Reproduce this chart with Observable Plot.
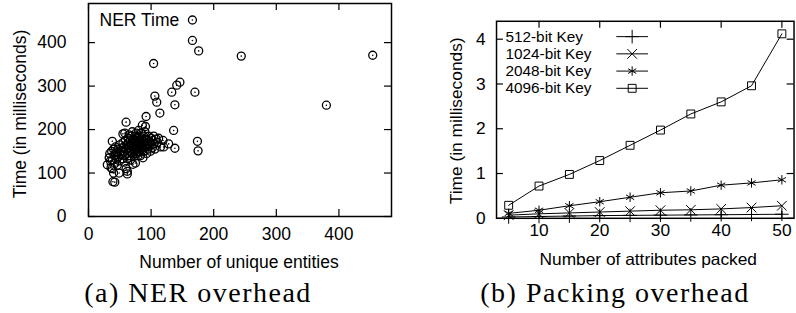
<!DOCTYPE html>
<html><head><meta charset="utf-8">
<script src="https://cdn.jsdelivr.net/npm/d3@7"></script>
<script src="https://cdn.jsdelivr.net/npm/@observablehq/plot@0.6"></script>
<style>
html,body{margin:0;padding:0;background:#fff;overflow:hidden}
#wrap{position:relative;width:796px;height:313px;overflow:hidden;background:#fff}
.fig{position:absolute;top:0}
.cap{position:absolute;font-family:"Liberation Serif",serif;font-size:28px;letter-spacing:1.5px;white-space:nowrap;transform:translate(-50%,-50%);color:#000;line-height:1}
</style></head><body>
<div id="wrap">
  <div id="figA" class="fig" style="left:0"></div>
  <div id="figB" class="fig" style="left:400px"></div>
  <div id="capA" class="cap" style="left:198px;top:293px"></div>
  <div id="capB" class="cap" style="left:615px;top:293px"></div>
</div>
<script>
// ---------- data: (a) NER overhead ----------
const nerEntities = [166,166,176,244,454,380,104,146,141,133,170,106,109,138,114,92,136,174,175,138,128,120,60,38,42,39,30,49,62,62,86,91,75,62,38,38,43,
 33,34,35,36,37,40,40,41,42,43,44,45,46,47,48,50,50,51,52,53,54,55,55,56,57,57,58,58,59,60,60,61,62,63,64,64,65,65,66,66,67,67,68,68,69,70,70,70,71,71,72,72,73,73,74,74,75,75,76,76,77,77,78,78,79,79,80,80,80,81,81,82,82,83,83,84,84,85,85,86,87,87,88,88,89,90,90,91,92,93,94,95,95,96,97,98,99,100,101,102,103,104,105,106,108,110,112,115,119];
const nerTimes = [452,405,381,369,371,256,352,309,302,286,286,277,263,257,238,230,198,173,151,157,167,160,217,173,79,80,119,100,104,98,210,207,123,133,110,129,141,
 135,145,128,112,150,100,155,140,122,160,132,147,118,155,138,165,128,150,142,158,133,170,190,148,160,125,192,140,175,155,110,165,145,180,158,170,150,188,140,162,175,130,155,185,165,145,172,195,160,120,150,178,168,138,185,158,165,175,145,192,160,170,150,182,165,140,175,155,198,168,148,160,185,172,140,163,192,178,152,168,135,158,185,172,150,165,195,178,160,145,175,168,155,185,162,172,150,180,165,158,175,185,168,155,178,170,180,160,175];
const nerXTicks = [0,100,200,300,400];
const nerYTicks = [0,100,200,300,400];
const nerLegend = "NER Time";
const nerXLabel = "Number of unique entities";
const yLabel = "Time (in milliseconds)";

// ---------- data: (b) Packing overhead ----------
const attrs = [5,10,15,20,25,30,35,40,45,50];
const t512  = [0.03,0.04,0.05,0.06,0.065,0.07,0.075,0.08,0.085,0.09];
const t1024 = [0.07,0.10,0.12,0.14,0.16,0.18,0.19,0.21,0.24,0.28];
const t2048 = [0.11,0.18,0.28,0.37,0.47,0.57,0.61,0.74,0.79,0.86];
const t4096 = [0.29,0.72,0.98,1.29,1.63,1.97,2.33,2.60,2.96,4.12];
const seriesNames = ["512-bit Key","1024-bit Key","2048-bit Key","4096-bit Key"];
const seriesSymbols = ["plus","times","asterisk","square"];
const packXTicks = [10,20,30,40,50];
const packYTicks = [0,1,2,3,4];
const packXLabel = "Number of attributes packed";
const captions = ["(a) NER overhead", "(b) Packing overhead"];

// ---------- build ----------
const FONT = "'Liberation Sans', Arial, Helvetica, sans-serif";
const FS = 17.5, TICK = 7;
const fmt = d3.format("d");

function inwardTicks(xt, yt, iw, ih) {
  const o = {stroke: "black", strokeWidth: 1.2};
  return [
    Plot.ruleX(xt, {...o, insetTop: ih - TICK}),
    Plot.ruleX(xt, {...o, insetBottom: ih - TICK}),
    Plot.ruleY(yt, {...o, insetRight: iw - TICK}),
    Plot.ruleY(yt, {...o, insetLeft: iw - TICK})
  ];
}

// (a)
{
  const W = 400, H = 275, mL = 88, mR = 9, mT = 3, mB = 59;
  const iw = W - mL - mR, ih = H - mT - mB;
  const pts = nerEntities.map((x, i) => ({x, y: nerTimes[i]}));
  const chart = Plot.plot({
    width: W, height: H, marginLeft: mL, marginRight: mR, marginTop: mT, marginBottom: mB,
    style: {fontFamily: FONT, fontSize: FS + "px", background: "white", overflow: "visible", color: "black"},
    x: {domain: [0, 484]},
    y: {domain: [0, 490]},
    marks: [
      Plot.dot(pts, {x: "x", y: "y", r: 4, stroke: "black", strokeWidth: 1.3, fill: "none"}),
      Plot.dot(pts, {x: "x", y: "y", r: 0.8, fill: "black", stroke: "none"}),
      ...inwardTicks(nerXTicks, nerYTicks, iw, ih),
      Plot.frame({stroke: "black", strokeWidth: 1.5}),
      Plot.axisX({ticks: nerXTicks, tickSize: 0, tickPadding: 11, label: null, fontSize: FS, tickFormat: fmt}),
      Plot.axisY({ticks: nerYTicks, tickSize: 0, tickPadding: 22, label: null, fontSize: FS, tickFormat: fmt}),
      Plot.text([nerXLabel], {frameAnchor: "bottom", textAnchor: "middle", lineAnchor: "middle", dx: -1, dy: 46, fontSize: FS}),
      Plot.text([yLabel], {frameAnchor: "left", textAnchor: "middle", lineAnchor: "middle", rotate: -90, dx: -68, dy: 4, fontSize: FS}),
      Plot.text([nerLegend], {frameAnchor: "top-left", textAnchor: "start", lineAnchor: "middle", dx: 11, dy: 17, fontSize: FS})
    ]
  });
  document.getElementById("figA").append(chart);
}

// (b)
{
  const W = 400, H = 275, mL = 97, mR = 2.5, mT = 21, mB = 55;
  const iw = W - mL - mR, ih = H - mT - mB;
  const cols = [t512, t1024, t2048, t4096];
  const rows = [];
  cols.forEach((vals, s) => attrs.forEach((a, i) => rows.push({a, t: vals[i], key: seriesNames[s], sym: seriesSymbols[s]})));
  const hline = {draw(ctx) { ctx.moveTo(-16, 0); ctx.lineTo(16, 0); }};
  const legendMarks = [];
  seriesNames.forEach((name, i) => {
    const dy = 15.5 + i * 17.4;
    legendMarks.push(
      Plot.text([name], {frameAnchor: "top-left", textAnchor: "start", lineAnchor: "middle", dx: 9, dy, fontSize: 15.5}),
      Plot.dot([0], {frameAnchor: "top-left", dx: 137, dy, symbol: hline, stroke: "black", strokeWidth: 1, fill: "none"}),
      Plot.dot([0], {frameAnchor: "top-left", dx: 137, dy, symbol: seriesSymbols[i], r: 4.5, stroke: "black", strokeWidth: 1, fill: "none"})
    );
  });
  const chart = Plot.plot({
    width: W, height: H, marginLeft: mL, marginRight: mR, marginTop: mT, marginBottom: mB,
    style: {fontFamily: FONT, fontSize: FS + "px", background: "white", overflow: "visible", color: "black"},
    x: {domain: [3, 52]},
    y: {domain: [0, 4.4]},
    symbol: {domain: seriesSymbols, range: seriesSymbols},
    marks: [
      Plot.line(rows, {x: "a", y: "t", z: "key", stroke: "black", strokeWidth: 1}),
      Plot.dot(rows, {x: "a", y: "t", symbol: "sym", r: 4.5, stroke: "black", strokeWidth: 1, fill: "none"}),
      ...inwardTicks(packXTicks, packYTicks, iw, ih),
      Plot.frame({stroke: "black", strokeWidth: 1.5}),
      Plot.axisX({ticks: packXTicks, tickSize: 0, tickPadding: 5, label: null, fontSize: FS, tickFormat: fmt}),
      Plot.axisY({ticks: packYTicks, tickSize: 0, tickPadding: 11, label: null, fontSize: FS, tickFormat: fmt}),
      Plot.text([packXLabel], {frameAnchor: "bottom", textAnchor: "middle", lineAnchor: "middle", dx: 3, dy: 42, fontSize: FS}),
      Plot.text([yLabel], {frameAnchor: "left", textAnchor: "middle", lineAnchor: "middle", rotate: -90, dx: -40, dy: 1, fontSize: FS}),
      ...legendMarks
    ]
  });
  document.getElementById("figB").append(chart);
}

document.getElementById("capA").textContent = captions[0];
document.getElementById("capB").textContent = captions[1];
</script>
</body></html>
